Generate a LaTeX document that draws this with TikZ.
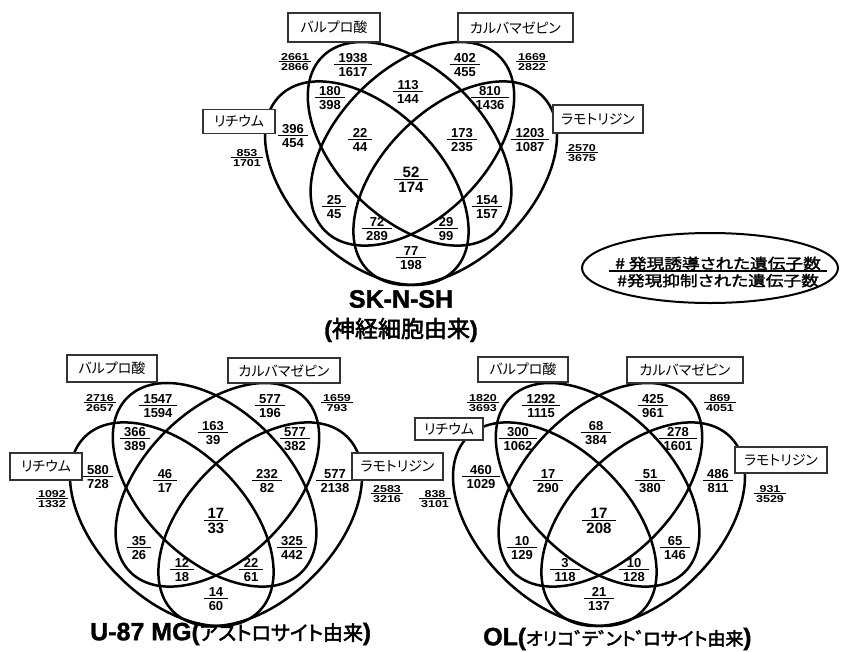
\documentclass[tikz,border=0pt]{standalone}
\usepackage{fontspec}
\setmainfont{Liberation Sans}
\newfontfamily\hvy[BoldFeatures={FakeBold=1.5}]{Liberation Sans}
\newfontfamily\jp[RawFeature=+palt]{Noto Sans CJK JP}
\newfontfamily\jpb[RawFeature=+palt,FakeBold=2.5]{Noto Sans CJK JP}
\newfontfamily\jpw[RawFeature=+palt,FakeBold=2,FakeStretch=1.22]{Noto Sans CJK JP}
\newfontfamily\numw[FakeStretch=1.25]{Liberation Sans}
\usetikzlibrary{shapes.geometric}
\newlength\fpad \setlength\fpad{4pt}
\newlength\frise \setlength\frise{10.6pt}
\renewcommand\arraystretch{0}
\newcommand\frc[2]{\begin{tabular}{@{\hspace{\fpad}}c@{\hspace{\fpad}}}#1\\[1.2pt]\hline\rule{0pt}{\frise}#2\end{tabular}}
\newcommand\fnum[6][fin]{\node[#1] (#2) at (#3,#4) {\frc{#5}{#6}};}
\newcommand\dk{\makebox[0.42em][l]{゛}}
\newcommand\ells{%
  \draw[vl,rotate around={-45:(366.8,183.2)}] (366.8,183.2) ellipse (123.3pt and 74.3pt);
  \draw[vl,rotate around={-45:(409.6,143.8)}] (409.6,143.8) ellipse (123.3pt and 74.3pt);
  \draw[vl,rotate around={45:(412.4,143.8)}] (412.4,143.8) ellipse (123.3pt and 74.3pt);
  \draw[vl,rotate around={45:(455.2,183.2)}] (455.2,183.2) ellipse (123.3pt and 74.3pt);}
\tikzset{
  vl/.style={line width=2.5pt, black},
  fin/.style={inner sep=0pt, font=\bfseries\fontsize{13}{13}\selectfont\setlength\arrayrulewidth{1.3pt}\setlength\fpad{4.5pt}\setlength\frise{10.7pt}},
  fbig/.style={inner sep=0pt, font=\bfseries\fontsize{15}{15}\selectfont\setlength\arrayrulewidth{1.4pt}\setlength\fpad{4pt}\setlength\frise{12.3pt}},
  fout/.style={inner sep=0pt, font=\numw\bfseries\fontsize{10}{10}\selectfont\setlength\arrayrulewidth{1pt}\setlength\fpad{2pt}\setlength\frise{8.6pt}},
  flg/.style={inner sep=0pt, font=\jpw\fontsize{14.5}{14.5}\selectfont\setlength\arrayrulewidth{2pt}\setlength\fpad{6pt}\setlength\frise{14pt}},
  lab/.style={draw=black!80, line width=1.1pt, fill=white, inner sep=0pt, font=\jp\fontsize{14}{14}\selectfont},
  ttl/.style={inner sep=0pt, font=\hvy\bfseries\fontsize{25}{25}\selectfont},
}
\begin{document}
\begin{tikzpicture}[x=1pt,y=-1pt]
\useasboundingbox (0,0) rectangle (846,651);
\fill[white] (0,0) rectangle (846,651);
% ---------- SK-N-SH ----------
\begin{scope}
\ells
\fnum{s1}{353}{65}{1938}{1617}
\fnum{s2}{465}{65}{402}{455}
\fnum{s3}{330}{98}{180}{398}
\fnum{s4}{408}{92}{113}{144}
\fnum{s5}{490}{98}{810}{1436}
\fnum{s6}{293}{136}{396}{454}
\fnum{s7}{360}{140}{22}{44}
\fnum{s8}{462}{140}{173}{235}
\fnum{s9}{530}{140}{1203}{1087}
\fnum[fbig]{s10}{411}{180}{52}{174}
\fnum{s11}{334}{207}{25}{45}
\fnum{s12}{487}{207}{154}{157}
\fnum{s13}{377}{229}{72}{289}
\fnum{s14}{446}{229}{29}{99}
\fnum{s15}{411}{258}{77}{198}
\fnum[fout]{s16}{295}{62}{2661}{2866}
\fnum[fout]{s17}{532}{62}{1669}{2822}
\fnum[fout]{s18}{247}{158}{853}{1701}
\fnum[fout]{s19}{582}{153}{2570}{3675}
\end{scope}
% ---------- U-87 MG ----------
\begin{scope}[shift={(-195,341)}]
\ells
\fnum{u1}{353}{65}{1547}{1594}
\fnum{u2}{465}{65}{577}{196}
\fnum{u3}{330}{98}{366}{389}
\fnum{u4}{408}{92}{163}{39}
\fnum{u5}{490}{98}{577}{382}
\fnum{u6}{293}{136}{580}{728}
\fnum{u7}{360}{140}{46}{17}
\fnum{u8}{462}{140}{232}{82}
\fnum{u9}{530}{140}{577}{2138}
\fnum[fbig]{u10}{411}{180}{17}{33}
\fnum{u11}{334}{207}{35}{26}
\fnum{u12}{487}{207}{325}{442}
\fnum{u13}{377}{229}{12}{18}
\fnum{u14}{446}{229}{22}{61}
\fnum{u15}{411}{258}{14}{60}
\fnum[fout]{u16}{295}{62}{2716}{2657}
\fnum[fout]{u17}{532}{62}{1659}{793}
\fnum[fout]{u18}{247}{158}{1092}{1332}
\fnum[fout]{u19}{582}{153}{2583}{3216}
\end{scope}
% ---------- OL ----------
\begin{scope}[shift={(188,341)}]
\ells
\fnum{o1}{353}{65}{1292}{1115}
\fnum{o2}{465}{65}{425}{961}
\fnum{o3}{330}{98}{300}{1062}
\fnum{o4}{408}{92}{68}{384}
\fnum{o5}{490}{98}{278}{1601}
\fnum{o6}{293}{136}{460}{1029}
\fnum{o7}{360}{140}{17}{290}
\fnum{o8}{462}{140}{51}{380}
\fnum{o9}{530}{140}{486}{811}
\fnum[fbig]{o10}{411}{180}{17}{208}
\fnum{o11}{334}{207}{10}{129}
\fnum{o12}{487}{207}{65}{146}
\fnum{o13}{377}{229}{3}{118}
\fnum{o14}{446}{229}{10}{128}
\fnum{o15}{411}{258}{21}{137}
\fnum[fout]{o16}{295}{62}{1820}{3693}
\fnum[fout]{o17}{532}{62}{869}{4051}
\fnum[fout]{o18}{247}{158}{838}{3101}
\fnum[fout]{o19}{582}{153}{931}{3529}
\end{scope}
% ---------- drug labels ----------
\node[lab, minimum width=92pt, minimum height=29pt] (sv) at (334,27.5) {バルプロ酸};
\node[lab, minimum width=115pt, minimum height=29pt] (sc) at (515.5,27.5) {カルバマゼピン};
\node[lab, minimum width=72pt, minimum height=24pt] (sl) at (239,121.5) {リチウム};
\node[lab, minimum width=90pt, minimum height=28pt] (sm) at (598,119) {ラモトリジン};
\node[lab, minimum width=90pt, minimum height=27pt] (uv) at (112,368.5) {バルプロ酸};
\node[lab, minimum width=112pt, minimum height=25pt] (uc) at (284,370.5) {カルバマゼピン};
\node[lab, minimum width=72pt, minimum height=27pt] (ul) at (46,466.5) {リチウム};
\node[lab, minimum width=91pt, minimum height=27pt] (um) at (397.5,466.5) {ラモトリジン};
\node[lab, minimum width=90pt, minimum height=25pt] (ov) at (523,369.5) {バルプロ酸};
\node[lab, minimum width=116pt, minimum height=26pt] (oc) at (685,370) {カルバマゼピン};
\node[lab, minimum width=68pt, minimum height=22pt] (ol) at (449,429) {リチウム};
\node[lab, minimum width=92pt, minimum height=26pt] (om) at (781,460) {ラモトリジン};
% ---------- legend ----------
\node[draw, ellipse, line width=2pt, minimum width=256pt, minimum height=70pt, inner sep=0pt] (lg) at (710,268) {};
\node[flg] (lgt) at (718,272) {\frc{\# 発現誘導された遺伝子数}{\#発現抑制された遺伝子数}};
% ---------- titles ----------
\node[ttl] (t1) at (401,299) {SK-N-SH};
\node[ttl, font=\hvy\bfseries\fontsize{23}{23}\selectfont] (t1b) at (401,330) {({\jpb\mdseries 神経細胞由来})};
\node[ttl, anchor=west] (t2) at (90,634) {U-87 MG{\fontsize{24}{24}\selectfont(}{\jpb\mdseries\fontsize{20}{20}\selectfont アストロサイト由来}{\fontsize{24}{24}\selectfont)}};
\node[ttl, anchor=west] (t3) at (483,639) {OL{\fontsize{24}{24}\selectfont(}{\jpb\mdseries\fontsize{18}{18}\selectfont オリコ\dk テ\dk ント\dk ロサイト由来}{\fontsize{24}{24}\selectfont)}};
\end{tikzpicture}
\end{document}
